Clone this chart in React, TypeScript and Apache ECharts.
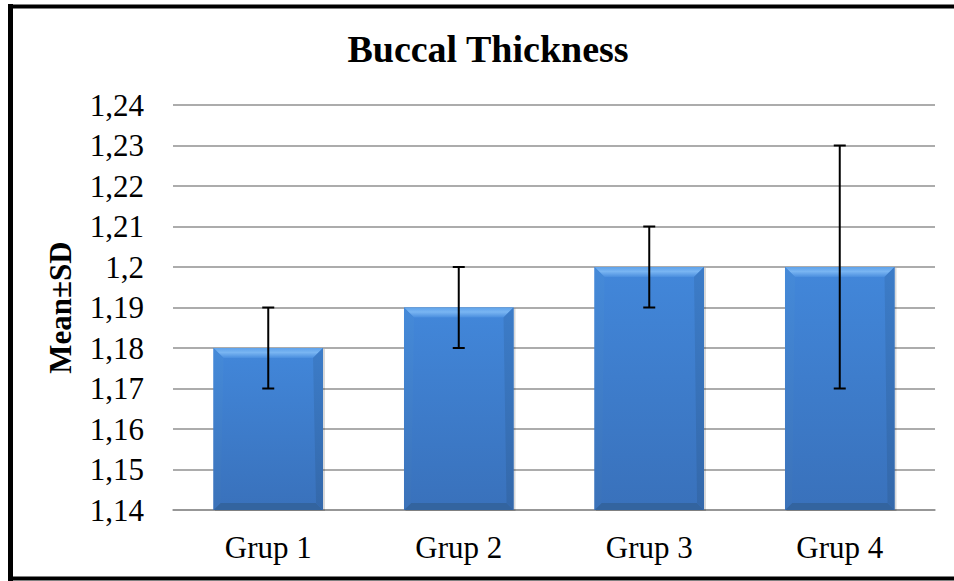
import React, { useEffect, useRef } from "react";
import * as echarts from "echarts";

const categories = ["Grup 1", "Grup 2", "Grup 3", "Grup 4"];
const means = [1.18, 1.19, 1.2, 1.2];
const errLow = [1.17, 1.18, 1.19, 1.17];
const errHigh = [1.19, 1.2, 1.21, 1.23];
const yMin = 1.14;
const yMax = 1.24;
const yStep = 0.01;

const FONT = "'Liberation Serif', 'Times New Roman', serif";

export default function App() {
  const ref = useRef<HTMLDivElement>(null);
  useEffect(() => {
    if (!ref.current) return;
    const chart = echarts.init(ref.current, null, { renderer: "svg" });

    const barData = categories.map((c, i) => [i, means[i]]);
    const errData = categories.map((c, i) => [i, errLow[i], errHigh[i]]);

    const option: any = {
      animation: false,
      backgroundColor: "#ffffff",
      title: {
        text: "Buccal Thickness",
        left: 487,
        textAlign: "center",
        top: 25,
        textStyle: { fontFamily: FONT, fontSize: 38, fontWeight: "bold", color: "#000" },
      },
      grid: { left: 173, right: 19, top: 105, bottom: 71, containLabel: false },
      xAxis: {
        type: "category",
        data: categories,
        axisLine: { show: true, lineStyle: { color: "#909090", width: 1.5 } },
        axisTick: { show: false },
        axisLabel: { fontFamily: FONT, fontSize: 31, color: "#000", margin: 22 },
      },
      yAxis: {
        type: "value",
        min: yMin,
        max: yMax,
        interval: yStep,
        name: "Mean±SD",
        nameLocation: "middle",
        nameGap: 97,
        nameTextStyle: { fontFamily: FONT, fontSize: 31, fontWeight: "bold", color: "#000" },
        axisLine: { show: false },
        axisTick: { show: false },
        splitLine: { show: true, lineStyle: { color: "#909090", width: 1.5 } },
        axisLabel: {
          fontFamily: FONT,
          fontSize: 31,
          color: "#000",
          margin: 29,
          formatter: (v: number) => String(Number(v.toFixed(2))).replace(".", ","),
        },
      },
      graphic: [
        { type: "line", shape: { x1: 10.5, y1: 4, x2: 10.5, y2: 581 }, style: { stroke: "#000", lineWidth: 5 }, z: 100 },
        { type: "line", shape: { x1: 8, y1: 6.5, x2: 954, y2: 6.5 }, style: { stroke: "#000", lineWidth: 4 }, z: 100 },
        { type: "line", shape: { x1: 8, y1: 578.5, x2: 954, y2: 578.5 }, style: { stroke: "#000", lineWidth: 4 }, z: 100 },
      ],
      series: [
        {
          type: "custom",
          data: barData,
          encode: { x: 0, y: 1 },
          z: 2,
          renderItem: (params: any, api: any) => {
            const i = api.value(0);
            const top = api.coord([i, api.value(1)]);
            const base = api.coord([i, yMin]);
            const w = api.size([1, 0])[0] * 0.575;
            const x0 = top[0] - w / 2;
            const x1 = top[0] + w / 2;
            const y0 = top[1];
            const y1 = base[1];
            const b = 10;
            const bb = 7;
            return {
              type: "group",
              children: [
                {
                  type: "rect",
                  shape: { x: x0 + 1.5, y: y0 + 1, width: w + 0.5, height: y1 - y0 },
                  style: { fill: "rgba(0,0,0,0.15)" },
                },
                {
                  type: "rect",
                  shape: { x: x0, y: y0, width: w, height: y1 - y0 },
                  style: {
                    fill: new echarts.graphic.LinearGradient(0, 0, 0, 1, [
                      { offset: 0, color: "#4287da" },
                      { offset: 1, color: "#3971bb" },
                    ]),
                  },
                },
                {
                  type: "polygon",
                  shape: { points: [[x0, y0], [x1, y0], [x1 - b, y0 + b], [x0 + b, y0 + b]] },
                  style: {
                    fill: new echarts.graphic.LinearGradient(0, 0, 0, 1, [
                      { offset: 0, color: "#5fa2ea" },
                      { offset: 0.45, color: "#79b5f2" },
                      { offset: 1, color: "#4a8ede" },
                    ]),
                  },
                },
                {
                  type: "polygon",
                  shape: { points: [[x0, y1], [x1, y1], [x1 - bb, y1 - bb], [x0 + bb, y1 - bb]] },
                  style: { fill: "#33649f" },
                },
                {
                  type: "polygon",
                  shape: { points: [[x0, y0], [x0 + b, y0 + b], [x0 + bb, y1 - bb], [x0, y1]] },
                  style: {
                    fill: new echarts.graphic.LinearGradient(0, 0, 0, 1, [
                      { offset: 0, color: "#458ad9" },
                      { offset: 1, color: "#3b72b9" },
                    ]),
                  },
                },
                {
                  type: "polygon",
                  shape: { points: [[x1, y0], [x1 - b, y0 + b], [x1 - bb, y1 - bb], [x1, y1]] },
                  style: {
                    fill: new echarts.graphic.LinearGradient(0, 0, 0, 1, [
                      { offset: 0, color: "#3c7cc8" },
                      { offset: 1, color: "#3468aa" },
                    ]),
                  },
                },
              ],
            };
          },
        },
        {
          type: "custom",
          data: errData,
          encode: { x: 0, y: [1, 2] },
          z: 5,
          renderItem: (params: any, api: any) => {
            const i = api.value(0);
            const lo = api.coord([i, api.value(1)]);
            const hi = api.coord([i, api.value(2)]);
            const cap = 6;
            const st = { stroke: "#000", lineWidth: 2 };
            return {
              type: "group",
              children: [
                { type: "line", shape: { x1: lo[0], y1: lo[1], x2: hi[0], y2: hi[1] }, style: st },
                { type: "line", shape: { x1: lo[0] - cap, y1: lo[1], x2: lo[0] + cap, y2: lo[1] }, style: st },
                { type: "line", shape: { x1: hi[0] - cap, y1: hi[1], x2: hi[0] + cap, y2: hi[1] }, style: st },
              ],
            };
          },
        },
      ],
    };
    option.title.left = 483;
    chart.setOption(option);
    return () => chart.dispose();
  }, []);
  return (
    <div
      ref={ref}
      style={{ position: "fixed", left: 0, top: 0, width: 954, height: 581, background: "#fff" }}
    />
  );
}
